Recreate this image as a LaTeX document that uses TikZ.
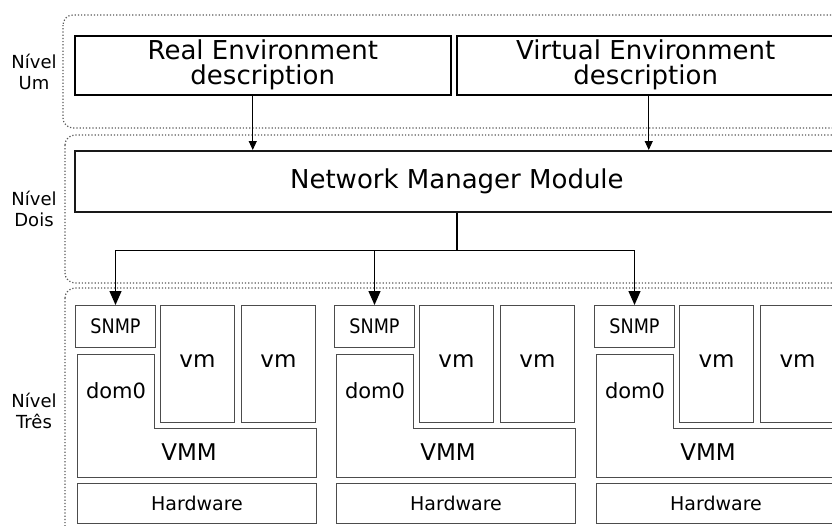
\documentclass[tikz,border=0pt]{standalone}
\usepackage{fontspec}
\setmainfont{DejaVu Sans}
\newfontfamily\condfont[FakeStretch=0.88]{DejaVu Sans}
\usetikzlibrary{arrows.meta,positioning,calc}

\begin{document}
\begin{tikzpicture}[
        x=1pt, y=-1pt,
        level/.style={black!65, line width=1.2pt, dash pattern=on 1.2pt off 2pt,
            rounded corners=10pt},
        lvl/.style={align=center, font=\fontsize{18}{21}\selectfont},
        desc/.style={draw=black, line width=1.5pt, inner sep=0pt,
            anchor=north west, minimum height=59pt, align=center,
            font=\fontsize{26}{25}\selectfont},
        mgr/.style={draw=black!90, line width=1.8pt, inner sep=0pt,
            anchor=north west, minimum width=764pt, minimum height=61pt,
            font=\fontsize{26}{26}\selectfont},
        part/.style={draw=black!70, line width=1pt, inner sep=0pt,
            anchor=north west},
        flow/.style={line width=1pt, -{Triangle[width=8pt,length=9pt]}},
        tree/.style={line width=1.3pt},
        treehead/.style={tree, -{Triangle[width=12pt,length=14pt]}},
        every node/.style={color=black},
    ]
    \useasboundingbox (0,0) rectangle (832,525);
    \clip (0,0) rectangle (832,525);
    % levels
    \draw[level] (63,15) rectangle (880,128);
    \draw[level] (65,135) rectangle (880,283);
    \draw[level] (65,288) rectangle (880,580);
    \node[lvl] (l1) at (34,72) {Nível\\Um};
    \node[lvl] (l2) at (34,209) {Nível\\Dois};
    \node[lvl] (l3) at (34,411) {Nível\\Três};
    % descriptions
    \node[desc, minimum width=376pt] (real) at (74,35) {Real Environment\\description};
    \node[desc, minimum width=378pt] (virt) at (456,35) {Virtual Environment\\description};
    \node[mgr] (nmm) at (74,150) {Network Manager Module};
    \draw[flow] ([xshift=-10pt]real.south) -- ([xshift=-10pt]real.south |- nmm.north);
    \draw[flow] ([xshift=3pt]virt.south) -- ([xshift=3pt]virt.south |- nmm.north);
    % hosts
    \foreach \i/\x in {1/75,2/334,3/594}{
        \begin{scope}[xshift=\x pt]
            \node[part, minimum width=80pt, minimum height=42pt,
                font=\fontsize{20}{20}\condfont] (snmp\i) at (0,305) {SNMP};
            \node[part, minimum width=74pt, minimum height=117pt] (vma\i) at (85,305) {};
            \node[part, minimum width=74pt, minimum height=117pt] (vmb\i) at (166,305) {};
            \node[anchor=base, font=\fontsize{23}{23}\selectfont] at ([yshift=-62pt]vma\i.north) {vm};
            \node[anchor=base, font=\fontsize{23}{23}\selectfont] at ([yshift=-62pt]vmb\i.north) {vm};
            \draw[part] (2,354) -- (79,354) -- (79,428) -- (241,428)
                -- (241,477) -- (2,477) -- cycle;
            \node[anchor=base, font=\fontsize{21}{21}\selectfont] (dom\i) at (41,398) {dom0};
            \node[anchor=base, font=\fontsize{23}{23}\selectfont] (vmm\i) at (114,460) {VMM};
            \node[part, minimum width=239pt, minimum height=40pt,
                font=\fontsize{19}{19}\selectfont] (hw\i) at (2,483) {Hardware};
        \end{scope}
    }
    % manager to hosts
    \coordinate (split) at ($(nmm.south)+(0,38)$);
    \draw[tree] (nmm.south) -- (split);
    \foreach \i in {1,2,3}
        \draw[treehead] (split) -| (snmp\i.north);
\end{tikzpicture}
\end{document}
